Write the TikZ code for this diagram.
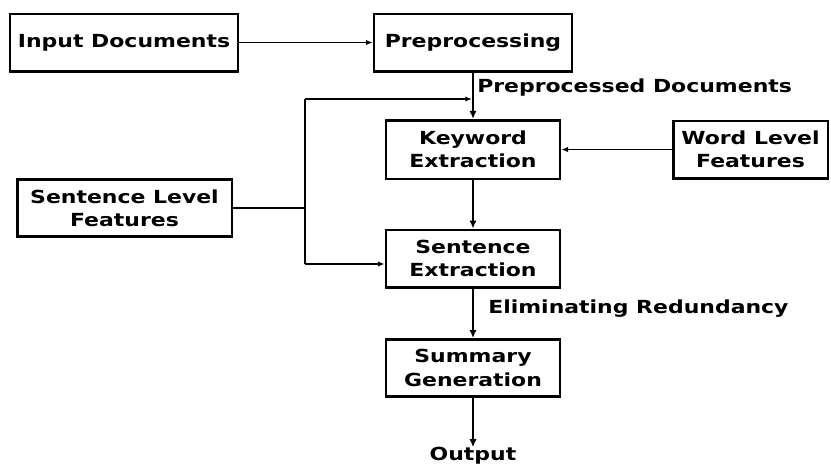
\documentclass[tikz,border=0pt]{standalone}
\usepackage{fontspec}
\setmainfont[FakeStretch=1.22]{DejaVu Sans}
\usetikzlibrary{arrows.meta}

\begin{document}
\begin{tikzpicture}[x=0.75pt,y=0.75pt,yscale=-1,xscale=1,
    box/.style={draw, line width=2pt, align=center, inner sep=0pt, minimum height=43pt, font=\fontsize{13.5}{17.5}\selectfont\bfseries},
    tag/.style={inner sep=0pt, font=\fontsize{13.5}{17.5}\selectfont\bfseries},
    flow/.style={line width=2.2pt, -{Latex[length=6pt,width=5.5pt]}},
    feed/.style={line width=1.1pt, -{Latex[length=5pt,width=4pt]}}]
\useasboundingbox (0,0) rectangle (831,464);

% Boxes
\node[box, minimum width=171pt] (inputdoc) at (124,42.5) {Input Documents};
\node[box, minimum width=148.5pt] (preproc) at (473,42.5) {Preprocessing};
\node[box, minimum width=130.5pt, minimum height=44pt] (keyword) at (473,149.5) {Keyword\\Extraction};
\node[box, minimum width=116pt] (wordfeat) at (750.5,149.5) {Word Level\\Features};
\node[box, minimum width=161pt] (sentfeat) at (124.5,208) {Sentence Level\\Features};
\node[box, minimum width=130.5pt] (sentext) at (473,258.5) {Sentence\\Extraction};
\node[box, minimum width=130.5pt] (summary) at (473,368) {Summary\\Generation};

% Text Nodes
\node[tag, anchor=west] (preptag) at (477,88) {Preprocessed Documents};
\node[tag, anchor=west] (elimtag) at (488,309) {Eliminating Redundancy};
\node[tag] (output) at (473,456) {Output};

% Points of the feedback line
\coordinate (junc) at (305,208);
\coordinate (fbtop) at (305,99);
\coordinate (fbbot) at (305,264);
\coordinate (merge) at (472,99);

% Straight Lines
\draw[feed] (inputdoc) -- (preproc);
\draw[flow] (preproc) -- (keyword);
\draw[feed] (wordfeat) -- (keyword);
\draw[flow] (keyword) -- (sentext);
\draw[flow] (sentext) -- (summary);
\draw[flow] (summary) -- (output.north);

% Sentence level features
\draw[line width=1.1pt] (sentfeat) -- (junc);
\draw[line width=2pt] (fbtop) -- (fbbot);
\draw[feed] (fbtop) -- (merge);
\draw[feed] (fbbot) -- (sentext.west |- fbbot);

\end{tikzpicture}
\end{document}
